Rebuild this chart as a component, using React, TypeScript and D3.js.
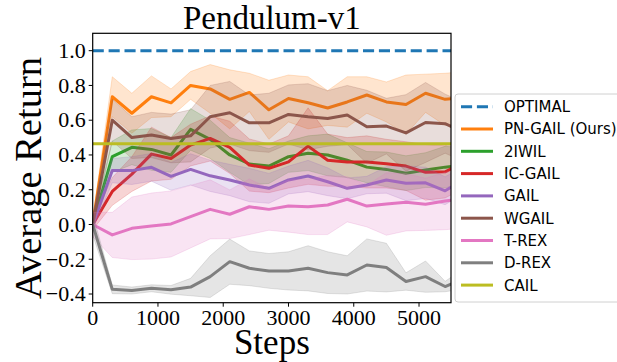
import * as d3 from "d3";

const width = 617;
const height = 362;
const margin = { top: 33.3, right: 166, bottom: 59.3, left: 92.7 };

const steps = [0, 300, 600, 900, 1200, 1500, 1800, 2100, 2400, 2700, 3000, 3300, 3600, 3900, 4200, 4500, 4800, 5100, 5400, 5700];

const pnGail = [0, 0.735, 0.64, 0.735, 0.7, 0.8, 0.78, 0.72, 0.76, 0.66, 0.725, 0.7, 0.67, 0.705, 0.745, 0.705, 0.69, 0.755, 0.72, 0.73];
const pnGailStd = [0.03, 0.115, 0.115, 0.12, 0.08, 0.08, 0.14, 0.17, 0.11, 0.17, 0.135, 0.15, 0.1, 0.145, 0.105, 0.115, 0.17, 0.11, 0.15, 0.15];

const twoIwil = [0, 0.39, 0.444, 0.432, 0.4, 0.547, 0.49, 0.4, 0.348, 0.336, 0.39, 0.41, 0.4, 0.37, 0.33, 0.317, 0.295, 0.313, 0.33, 0.34];
const twoIwilStd = [0.03, 0.09, 0.1, 0.12, 0.1, 0.12, 0.11, 0.1, 0.12, 0.1, 0.09, 0.1, 0.12, 0.1, 0.09, 0.1, 0.1, 0.1, 0.12, 0.1];

const icGail = [0, 0.19, 0.29, 0.405, 0.38, 0.457, 0.495, 0.444, 0.342, 0.323, 0.36, 0.451, 0.37, 0.36, 0.36, 0.35, 0.336, 0.3, 0.303, 0.36];
const icGailStd = [0.03, 0.08, 0.1, 0.155, 0.12, 0.12, 0.13, 0.15, 0.15, 0.14, 0.15, 0.22, 0.15, 0.14, 0.15, 0.14, 0.14, 0.16, 0.15, 0.15];

const gail = [0, 0.31, 0.31, 0.329, 0.277, 0.317, 0.28, 0.256, 0.227, 0.208, 0.256, 0.279, 0.246, 0.208, 0.227, 0.256, 0.237, 0.24, 0.194, 0.26];
const gailStd = [0.03, 0.07, 0.08, 0.08, 0.08, 0.09, 0.09, 0.09, 0.096, 0.086, 0.08, 0.09, 0.08, 0.06, 0.05, 0.076, 0.1, 0.09, 0.08, 0.08];

const wgail = [0, 0.6, 0.5, 0.515, 0.495, 0.51, 0.62, 0.643, 0.585, 0.585, 0.633, 0.62, 0.61, 0.63, 0.562, 0.566, 0.527, 0.587, 0.58, 0.53];
const wgailStd = [0.03, 0.12, 0.12, 0.13, 0.14, 0.15, 0.18, 0.18, 0.16, 0.17, 0.17, 0.19, 0.16, 0.17, 0.21, 0.16, 0.22, 0.23, 0.17, 0.17];

const trex = [0, -0.06, -0.022, -0.009, 0.003, 0.045, 0.087, 0.059, 0.102, 0.087, 0.106, 0.102, 0.112, 0.145, 0.106, 0.118, 0.128, 0.116, 0.135, 0.15];
const trexStd = [0.07, 0.13, 0.18, 0.19, 0.19, 0.18, 0.17, 0.14, 0.16, 0.12, 0.15, 0.16, 0.17, 0.13, 0.12, 0.18, 0.165, 0.15, 0.165, 0.17];

const drex = [0, -0.373, -0.38, -0.367, -0.376, -0.36, -0.3, -0.214, -0.252, -0.267, -0.267, -0.252, -0.277, -0.29, -0.233, -0.248, -0.328, -0.3, -0.357, -0.31];
const drexStd = [0.06, 0.025, 0.02, 0.02, 0.025, 0.05, 0.12, 0.13, 0.1, 0.1, 0.11, 0.13, 0.12, 0.11, 0.15, 0.14, 0.05, 0.09, 0.03, 0.06];

const optimal = 1.0;
const cail = 0.465;

const series = [
  { name: "PN-GAIL (Ours)", color: "#ff7f0e", mean: pnGail, std: pnGailStd },
  { name: "2IWIL", color: "#2ca02c", mean: twoIwil, std: twoIwilStd },
  { name: "IC-GAIL", color: "#d62728", mean: icGail, std: icGailStd },
  { name: "GAIL", color: "#9467bd", mean: gail, std: gailStd },
  { name: "WGAIL", color: "#8c564b", mean: wgail, std: wgailStd },
  { name: "T-REX", color: "#e377c2", mean: trex, std: trexStd },
  { name: "D-REX", color: "#7f7f7f", mean: drex, std: drexStd },
];

const legendItems = [
  { name: "OPTIMAL", color: "#1f77b4", dashed: true },
  ...series.map((s) => ({ name: s.name, color: s.color, dashed: false })),
  { name: "CAIL", color: "#bcbd22", dashed: false },
];

const xTicks = [0, 1000, 2000, 3000, 4000, 5000];
const yTicks = [-0.4, -0.2, 0.0, 0.2, 0.4, 0.6, 0.8, 1.0];

const serif = "'Liberation Serif', 'Times New Roman', serif";
const sans = "'DejaVu Sans', sans-serif";

const App = () => {
  const x = d3.scaleLinear().domain([0, 5490]).range([margin.left, width - margin.right]);
  const y = d3.scaleLinear().domain([-0.45, 1.1]).range([height - margin.bottom, margin.top]);

  const line = d3
    .line<number>()
    .x((_, i) => x(steps[i]))
    .y((d) => y(d));

  const bandFor = (mean: number[], std: number[]) =>
    d3
      .area<number>()
      .x((_, i) => x(steps[i]))
      .y0((d, i) => y(d - std[i]))
      .y1((d, i) => y(d + std[i]))(mean) || "";

  const x0 = margin.left;
  const x1 = width - margin.right;
  const y0 = height - margin.bottom;
  const y1 = margin.top;
  const fmt = (v: number) => d3.format(".1f")(v).replace("-", "\u2212");

  const legendX = 455;
  const legendY = 94;
  const rowH = 22.3;

  return (
    <svg
      width={width}
      height={height}
      style={{ position: "absolute", left: 0, top: 0, background: "#fff" }}
    >
      <defs>
        <clipPath id="plot">
          <rect x={x0} y={y1} width={x1 - x0} height={y0 - y1} />
        </clipPath>
      </defs>

      <g clipPath="url(#plot)">
        <line
          x1={x0}
          x2={x1}
          y1={y(optimal)}
          y2={y(optimal)}
          stroke="#1f77b4"
          strokeWidth={3}
          strokeDasharray="11.1 4.8"
        />
        {series.map((s) => (
          <g key={s.name}>
            <path d={bandFor(s.mean, s.std)} fill={s.color} fillOpacity={0.2} stroke={s.color} strokeOpacity={0.2} strokeWidth={1} />
            <path d={line(s.mean) || ""} fill="none" stroke={s.color} strokeWidth={3} strokeLinejoin="round" />
          </g>
        ))}
        <line x1={x0} x2={x1} y1={y(cail)} y2={y(cail)} stroke="#bcbd22" strokeWidth={3} />
      </g>

      {/* axes */}
      <rect x={x0} y={y1} width={x1 - x0} height={y0 - y1} fill="none" stroke="#000" strokeWidth={1.2} />
      {xTicks.map((t) => (
        <g key={t}>
          <line x1={x(t)} x2={x(t)} y1={y0} y2={y0 + 4} stroke="#000" strokeWidth={1} />
          <text x={x(t)} y={y0 + 22} textAnchor="middle" fontFamily={serif} fontSize={22}>
            {t}
          </text>
        </g>
      ))}
      {yTicks.map((t) => (
        <g key={t}>
          <line x1={x0 - 4} x2={x0} y1={y(t)} y2={y(t)} stroke="#000" strokeWidth={1} />
          <text x={x0 - 7} y={y(t)} dy="0.33em" textAnchor="end" fontFamily={serif} fontSize={22}>
            {fmt(t)}
          </text>
        </g>
      ))}

      <text x={(x0 + x1) / 2} y={29} textAnchor="middle" fontFamily={serif} fontSize={33}>
        Pendulum-v1
      </text>
      <text x={(x0 + x1) / 2} y={354} textAnchor="middle" fontFamily={serif} fontSize={35}>
        Steps
      </text>
      <text
        transform={`translate(41, ${(y0 + y1) / 2 + 10}) rotate(-90)`}
        textAnchor="middle"
        fontFamily={serif}
        fontSize={38.5}
      >
        Average Return
      </text>

      {/* legend */}
      <rect
        x={legendX}
        y={legendY}
        width={200}
        height={208}
        rx={3}
        fill="#fff"
        fillOpacity={0.8}
        stroke="#d0d0d0"
        strokeWidth={1}
      />
      {legendItems.map((d, i) => {
        const cy = legendY + 12.7 + i * rowH;
        return (
          <g key={d.name}>
            <line
              x1={legendX + 6}
              x2={legendX + 38}
              y1={cy}
              y2={cy}
              stroke={d.color}
              strokeWidth={3}
              strokeDasharray={d.dashed ? "11.1 4.8" : undefined}
            />
            <text x={legendX + 49} y={cy} dy="0.36em" fontFamily={sans} fontSize={15} fill="#000">
              {d.name}
            </text>
          </g>
        );
      })}
    </svg>
  );
};

export default App;
